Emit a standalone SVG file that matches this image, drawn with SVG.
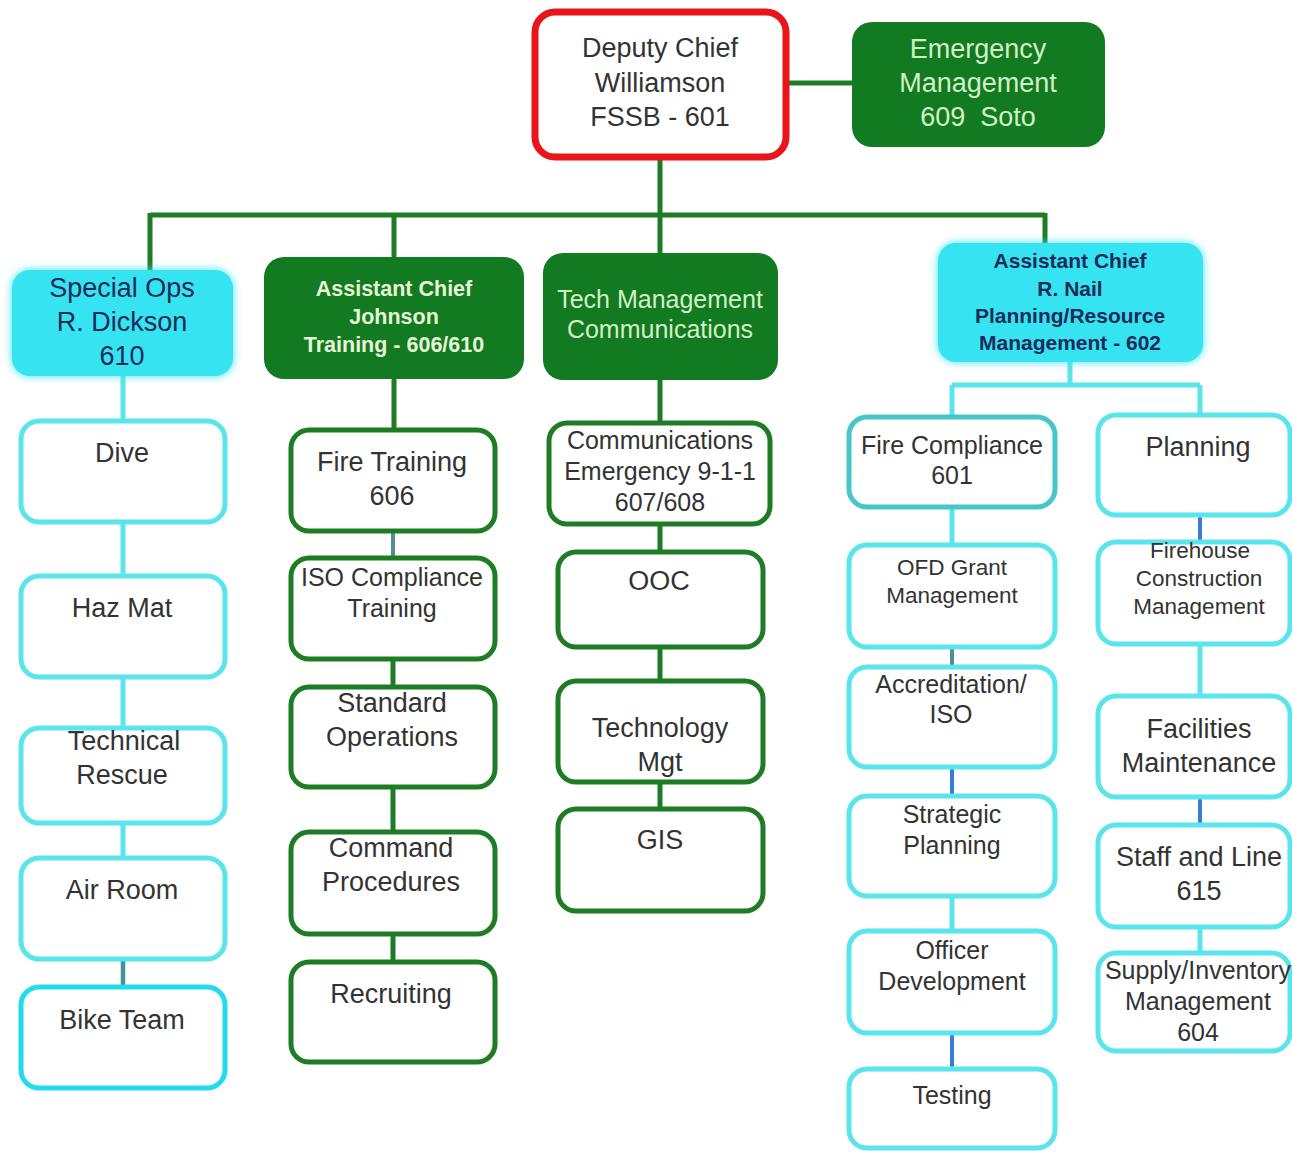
<svg xmlns="http://www.w3.org/2000/svg" width="1292" height="1154" viewBox="0 0 1292 1154">
<defs>
<filter id="glow" x="-20%" y="-20%" width="140%" height="140%">
<feGaussianBlur in="SourceGraphic" stdDeviation="4" result="b"/>
<feMerge><feMergeNode in="b"/><feMergeNode in="SourceGraphic"/></feMerge>
</filter>
<filter id="soft" x="-10%" y="-10%" width="120%" height="120%">
<feGaussianBlur in="SourceGraphic" stdDeviation="1.2" result="b"/>
<feMerge><feMergeNode in="b"/><feMergeNode in="SourceGraphic"/></feMerge>
</filter>
</defs>
<style>
text{font-family:"Liberation Sans",Arial,sans-serif;text-anchor:middle}
.t{fill:#333333;font-size:27px}
.t25{fill:#333333;font-size:25px}
.t23{fill:#333333;font-size:22.5px}
.gw{fill:#d2f0c6;font-size:27px}
.gb{fill:#e6f5d6;font-size:21.5px;font-weight:bold}
.gt{fill:#d2f0c6;font-size:25px}
.cn{fill:#1d2a5a;font-size:27px}
.cb{fill:#1d2a5a;font-size:21px;font-weight:bold}
.ob{fill:#ffffff;stroke-width:5}
.cy{stroke:#5ae4ec}
.gr{stroke:#1e7d24}
.fg{fill:#127a20}
.fc{fill:#36e4f0}
.lg{stroke:#1e7d24;stroke-width:5;fill:none}
.lc{stroke:#5ae4ec;stroke-width:5;fill:none}
.lb{stroke:#3b7ad6;stroke-width:4;fill:none}
.lx{stroke:#4e8f96;stroke-width:4;fill:none}
</style>
<rect width="1292" height="1154" fill="#ffffff"/>
<g id="connectors">
<path class="lg" d="M787 83H852"/>
<path class="lg" d="M660 158V215M150 215H1045M150 213V270M394 213V257M660 213V253M1045 213V243"/>
<path class="lg" d="M394 379V430M393 558V687M393 788V962"/>
<path class="lx" d="M393 532V558"/>
<path class="lg" d="M660 380V809"/>
<path class="lc" d="M123 376V987"/>
<path class="lx" d="M123 960V987"/>
<path class="lc" d="M1070 362V385M952 385H1200M952 385V417M1200 385V415"/>
<path class="lc" d="M952 508V545M952 897V931"/>
<path class="lx" d="M952 648V667"/>
<path class="lb" d="M952 768V796M952 1034V1069"/>
<path class="lc" d="M1200 645V696M1200 928V953"/>
<path class="lb" d="M1200 516V542M1200 798V825"/>
</g>
<g id="deputy">
<rect x="535" y="12" width="251" height="145" rx="20" fill="#ffffff" stroke="#e8151b" stroke-width="7"/>
<text class="t" x="660" y="57">Deputy Chief</text>
<text class="t" x="660" y="92">Williamson</text>
<text class="t" x="660" y="126">FSSB - 601</text>
</g>
<g id="emergency">
<rect class="fg" x="852" y="22" width="253" height="125" rx="20"/>
<text class="gw" x="978" y="58">Emergency</text>
<text class="gw" x="978" y="92">Management</text>
<text class="gw" x="978" y="126" xml:space="preserve">609  Soto</text>
</g>
<g id="specialops">
<rect class="fc" x="12" y="270" width="221" height="106" rx="18" filter="url(#glow)"/>
<text class="cn" x="122" y="297">Special Ops</text>
<text class="cn" x="122" y="331">R. Dickson</text>
<text class="cn" x="122" y="365">610</text>
</g>
<g id="johnson">
<rect class="fg" x="264" y="257" width="260" height="122" rx="20"/>
<text class="gb" x="394" y="296">Assistant Chief</text>
<text class="gb" x="394" y="324">Johnson</text>
<text class="gb" x="394" y="352">Training - 606/610</text>
</g>
<g id="techmgmt">
<rect class="fg" x="543" y="253" width="235" height="127" rx="20"/>
<text class="gt" x="660" y="308">Tech Management</text>
<text class="gt" x="660" y="338">Communications</text>
</g>
<g id="nail">
<rect class="fc" x="938" y="243" width="265" height="119" rx="18" filter="url(#glow)"/>
<text class="cb" x="1070" y="268">Assistant Chief</text>
<text class="cb" x="1070" y="296">R. Nail</text>
<text class="cb" x="1070" y="323">Planning/Resource</text>
<text class="cb" x="1070" y="350">Management - 602</text>
</g>
<g id="dive"><rect class="ob cy" x="21" y="421" width="204" height="101" rx="18"/><text class="t" x="122" y="462">Dive</text></g>
<g id="hazmat"><rect class="ob cy" x="21" y="576" width="204" height="101" rx="18"/><text class="t" x="122" y="617">Haz Mat</text></g>
<g id="techrescue"><rect class="ob cy" x="21" y="728" width="204" height="95" rx="18"/><text class="t" x="124" y="750">Technical</text><text class="t" x="122" y="784">Rescue</text></g>
<g id="airroom"><rect class="ob cy" x="21" y="858" width="204" height="101" rx="18"/><text class="t" x="122" y="899">Air Room</text></g>
<g id="biketeam"><rect class="ob" stroke="#22dcee" x="21" y="987" width="204" height="101" rx="18"/><text class="t" x="122" y="1029">Bike Team</text></g>
<g id="firetraining"><rect class="ob gr" x="291" y="430" width="204" height="101" rx="18"/><text class="t" x="392" y="471">Fire Training</text><text class="t" x="392" y="505">606</text></g>
<g id="isotraining"><rect class="ob gr" x="291" y="558" width="204" height="101" rx="18"/><text class="t25" x="392" y="586">ISO Compliance</text><text class="t25" x="392" y="617">Training</text></g>
<g id="standardops"><rect class="ob gr" x="291" y="687" width="204" height="100" rx="18"/><text class="t" x="392" y="712">Standard</text><text class="t" x="392" y="746">Operations</text></g>
<g id="commandproc"><rect class="ob gr" x="291" y="832" width="204" height="102" rx="18"/><text class="t" x="391" y="857">Command</text><text class="t" x="391" y="891">Procedures</text></g>
<g id="recruiting"><rect class="ob gr" x="291" y="962" width="204" height="100" rx="18"/><text class="t" x="391" y="1003">Recruiting</text></g>
<g id="communications"><rect class="ob gr" x="549" y="423" width="221" height="101" rx="18"/><text class="t25" x="660" y="449">Communications</text><text class="t25" x="660" y="480">Emergency 9-1-1</text><text class="t25" x="660" y="511">607/608</text></g>
<g id="ooc"><rect class="ob gr" x="558" y="552" width="205" height="95" rx="18"/><text class="t" x="659" y="590">OOC</text></g>
<g id="techmgt"><rect class="ob gr" x="558" y="681" width="205" height="101" rx="18"/><text class="t" x="660" y="737">Technology</text><text class="t" x="660" y="771">Mgt</text></g>
<g id="gis"><rect class="ob gr" x="558" y="809" width="205" height="102" rx="18"/><text class="t" x="660" y="849">GIS</text></g>
<g id="firecompliance"><rect class="ob" stroke="#45c6c8" x="849" y="417" width="206" height="90" rx="18"/><text class="t25" x="952" y="454">Fire Compliance</text><text class="t25" x="952" y="484">601</text></g>
<g id="ofdgrant"><rect class="ob cy" x="849" y="545" width="206" height="102" rx="18"/><text class="t23" x="952" y="575">OFD Grant</text><text class="t23" x="952" y="603">Management</text></g>
<g id="accreditation"><rect class="ob cy" x="849" y="667" width="206" height="100" rx="18"/><text class="t25" x="951" y="693">Accreditation/</text><text class="t25" x="951" y="723">ISO</text></g>
<g id="strategic"><rect class="ob cy" x="849" y="796" width="206" height="100" rx="18"/><text class="t25" x="952" y="823">Strategic</text><text class="t25" x="952" y="854">Planning</text></g>
<g id="officer"><rect class="ob cy" x="849" y="931" width="206" height="102" rx="18"/><text class="t25" x="952" y="959">Officer</text><text class="t25" x="952" y="990">Development</text></g>
<g id="testing"><rect class="ob cy" x="849" y="1069" width="206" height="79" rx="18"/><text class="t25" x="952" y="1104">Testing</text></g>
<g id="planning"><rect class="ob cy" x="1098" y="415" width="192" height="100" rx="18"/><text class="t" x="1198" y="456">Planning</text></g>
<g id="firehouse"><rect class="ob cy" x="1098" y="542" width="192" height="102" rx="18"/><text class="t23" x="1200" y="558">Firehouse</text><text class="t23" x="1199" y="586">Construction</text><text class="t23" x="1199" y="614">Management</text></g>
<g id="facilities"><rect class="ob cy" x="1098" y="696" width="192" height="101" rx="18"/><text class="t" x="1199" y="738">Facilities</text><text class="t" x="1199" y="772">Maintenance</text></g>
<g id="staffline"><rect class="ob cy" x="1098" y="825" width="192" height="102" rx="18"/><text class="t" x="1199" y="866">Staff and Line</text><text class="t" x="1199" y="900">615</text></g>
<g id="supply"><rect class="ob cy" x="1098" y="953" width="192" height="98" rx="18"/><text class="t25" x="1198" y="979">Supply/Inventory</text><text class="t25" x="1198" y="1010">Management</text><text class="t25" x="1198" y="1041">604</text></g>
</svg>
